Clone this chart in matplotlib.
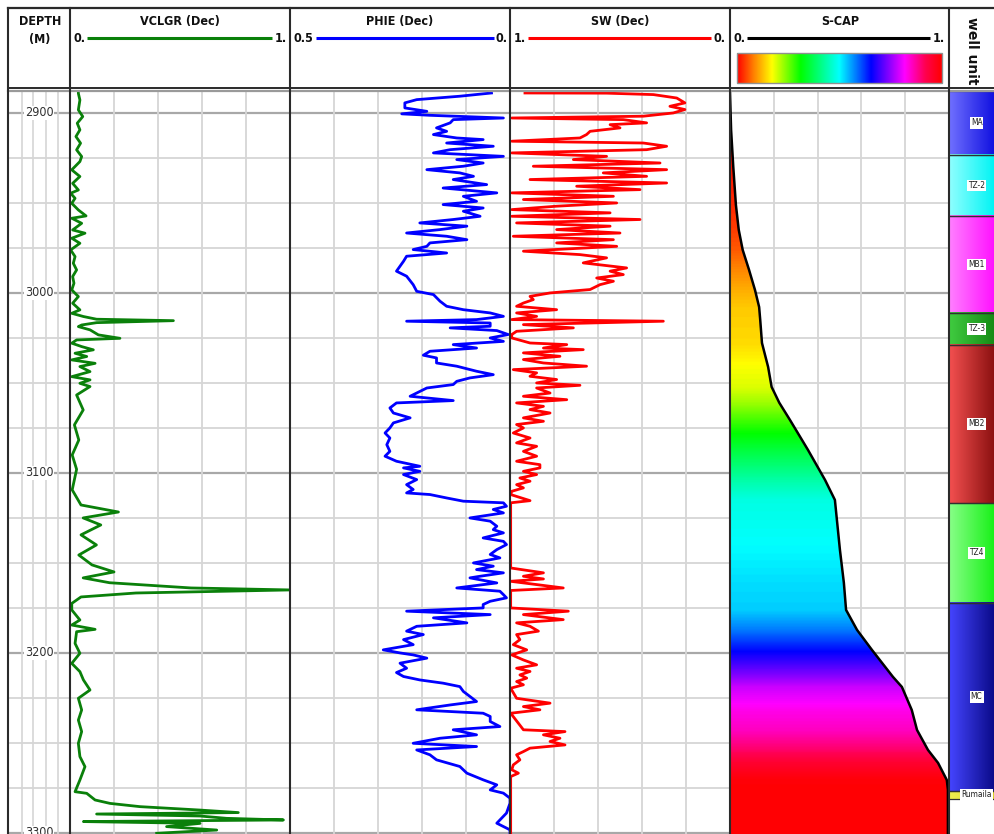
import numpy as np
import matplotlib
matplotlib.use("Agg")
import matplotlib.pyplot as plt
from matplotlib import font_manager as fm
from matplotlib.colors import LinearSegmentedColormap, to_rgb
from matplotlib.patches import Polygon, Rectangle

# pick a condensed face if one is available
_fonts = fm.fontManager.ttflist
_names = {f.name for f in _fonts}
if 'Liberation Sans Narrow' in _names:
    FAM, STRETCH, HS, DS = 'Liberation Sans Narrow', 'normal', 10, 10
elif any(f.name == 'DejaVu Sans' and ('Condensed' in f.fname) for f in _fonts):
    FAM, STRETCH, HS, DS = 'DejaVu Sans', 'condensed', 9, 9
else:
    FAM, STRETCH, HS, DS = 'Liberation Sans', 'normal', 9.5, 10
plt.rcParams['font.family'] = [FAM, 'DejaVu Sans']
plt.rcParams['font.stretch'] = STRETCH

# ---------------------------------------------------------------- data
depth_ticks = [2900, 3000, 3100, 3200, 3300]

# VCLGR (depth, value)
VCLGR = [(2887.8, 0.038), (2889.1, 0.038), (2892.8, 0.045), (2898.3, 0.038), (2902.0, 0.058), (2905.7, 0.033),
         (2909.4, 0.045), (2913.1, 0.027), (2916.8, 0.048), (2920.5, 0.030), (2924.2, 0.053), (2927.0, 0.045),
         (2931.6, 0.008), (2935.3, 0.045), (2939.1, 0.012), (2942.8, 0.038), (2944.6, 0.003), (2947.4, 0.023),
         (2950.2, 0.008), (2953.9, 0.038), (2957.2, 0.073), (2958.5, 0.008), (2961.3, 0.053), (2965.0, 0.012),
         (2966.8, 0.068), (2969.6, 0.008), (2972.4, 0.045), (2976.1, 0.003), (2979.8, 0.023), (2983.5, 0.015),
         (2987.2, 0.030), (2990.9, 0.012), (2994.6, 0.018), (2998.3, 0.008), (3002.0, 0.038), (3005.7, 0.012),
         (3009.4, 0.045), (3011.3, 0.008), (3013.1, 0.061), (3014.6, 0.121), (3015.4, 0.470), (3016.5, 0.121),
         (3017.8, 0.053), (3018.7, 0.038), (3020.5, 0.091), (3023.3, 0.129), (3025.2, 0.227), (3026.1, 0.030),
         (3027.9, 0.008), (3029.8, 0.053), (3031.6, 0.106), (3033.5, 0.023), (3035.3, 0.076), (3037.2, 0.008),
         (3039.1, 0.114), (3040.9, 0.045), (3043.7, 0.091), (3046.5, 0.008), (3048.3, 0.091), (3050.2, 0.045),
         (3052.0, 0.091), (3056.7, 0.030), (3065.0, 0.060), (3073.3, 0.020), (3081.7, 0.040), (3090.0, 0.010),
         (3098.0, 0.030), (3109.4, 0.010), (3117.8, 0.050), (3121.7, 0.220), (3125.0, 0.060), (3128.9, 0.140),
         (3134.4, 0.050), (3140.0, 0.120), (3145.6, 0.040), (3151.1, 0.100), (3155.0, 0.200), (3158.3, 0.060),
         (3161.0, 0.180), (3163.9, 0.550), (3165.0, 1.000), (3166.7, 0.300), (3168.9, 0.050), (3172.5, 0.008),
         (3176.1, 0.008), (3181.7, 0.045), (3184.5, 0.008), (3186.9, 0.114), (3188.2, 0.030), (3194.7, 0.023),
         (3200.2, 0.045), (3205.8, 0.008), (3210.4, 0.045), (3215.0, 0.061), (3220.6, 0.091), (3225.2, 0.038),
         (3231.7, 0.053), (3237.3, 0.038), (3243.7, 0.053), (3250.2, 0.038), (3257.6, 0.045), (3263.2, 0.068),
         (3270.6, 0.045), (3277.1, 0.023), (3278.0, 0.076), (3281.7, 0.114), (3283.6, 0.182), (3285.4, 0.318),
         (3287.3, 0.591), (3288.7, 0.765), (3289.5, 0.121), (3290.6, 0.591), (3291.9, 0.712), (3292.8, 0.970),
         (3293.7, 0.061), (3294.7, 0.591), (3296.5, 0.439), (3298.4, 0.667), (3300.2, 0.394)]

# PHIE (depth, value)
PHIE = [(2888.9, 0.042), (2890.7, 0.114), (2892.6, 0.212), (2894.4, 0.239), (2897.2, 0.239), (2899.1, 0.189),
        (2900.5, 0.246), (2901.3, 0.182), (2902.8, 0.015), (2903.7, 0.129), (2905.5, 0.136), (2908.3, 0.167),
        (2910.2, 0.144), (2912.0, 0.174), (2913.9, 0.121), (2914.8, 0.061), (2916.7, 0.144), (2918.5, 0.038),
        (2920.4, 0.136), (2922.2, 0.174), (2924.1, 0.015), (2925.9, 0.121), (2927.8, 0.061), (2929.6, 0.106),
        (2931.5, 0.189), (2933.3, 0.114), (2935.2, 0.083), (2937.0, 0.129), (2939.8, 0.053), (2941.7, 0.152),
        (2944.4, 0.030), (2946.3, 0.106), (2949.1, 0.076), (2950.9, 0.152), (2952.8, 0.061), (2954.6, 0.106),
        (2957.4, 0.068), (2959.2, 0.129), (2961.1, 0.205), (2962.9, 0.098), (2964.8, 0.159), (2966.7, 0.235),
        (2968.5, 0.144), (2970.4, 0.098), (2972.2, 0.182), (2974.1, 0.189), (2975.9, 0.220), (2977.8, 0.144),
        (2979.6, 0.235), (2982.4, 0.242), (2985.2, 0.250), (2987.9, 0.258), (2990.7, 0.235),
        (2995.4, 0.220), (2999.1, 0.212), (3000.9, 0.174), (3004.6, 0.159), (3007.4, 0.144), (3009.3, 0.106),
        (3011.1, 0.045), (3013.0, 0.015), (3014.8, 0.076), (3015.7, 0.235), (3016.7, 0.045), (3018.5, 0.045),
        (3019.4, 0.136), (3020.9, 0.030), (3023.1, 0.004), (3025.0, 0.045), (3026.9, 0.015), (3028.7, 0.129),
        (3030.6, 0.076), (3032.4, 0.182), (3034.6, 0.197), (3036.1, 0.167), (3038.9, 0.167), (3040.7, 0.121),
        (3043.5, 0.076), (3045.4, 0.038), (3047.2, 0.091), (3049.1, 0.121), (3050.9, 0.129), (3052.8, 0.189),
        (3055.6, 0.212), (3057.4, 0.227), (3059.8, 0.129), (3061.1, 0.258), (3063.9, 0.273), (3066.7, 0.265),
        (3069.4, 0.227), (3072.2, 0.265), (3075.0, 0.273), (3077.8, 0.284), (3080.6, 0.273), (3084.3, 0.280),
        (3088.0, 0.273), (3090.7, 0.284), (3093.5, 0.258), (3096.3, 0.205),
        (3097.2, 0.242), (3099.1, 0.205), (3100.9, 0.242), (3103.7, 0.212), (3106.5, 0.235), (3109.2, 0.220),
        (3111.1, 0.235), (3112.0, 0.182), (3113.9, 0.144), (3115.7, 0.106), (3116.6, 0.015), (3118.5, 0.008),
        (3120.3, 0.038), (3122.2, 0.015), (3125.0, 0.091), (3126.8, 0.045), (3129.6, 0.030), (3131.5, 0.038),
        (3133.3, 0.015), (3136.1, 0.061), (3138.0, 0.015), (3139.8, 0.008), (3142.6, 0.030), (3145.3, 0.045),
        (3147.2, 0.023), (3150.0, 0.083), (3151.8, 0.038), (3153.7, 0.076), (3155.5, 0.015), (3157.4, 0.068),
        (3158.3, 0.091), (3161.1, 0.030), (3163.9, 0.121), (3165.7, 0.023), (3167.6, 0.015), (3169.4, 0.008),
        (3171.3, 0.045), (3173.1, 0.061), (3175.0, 0.061), (3176.8, 0.235), (3178.7, 0.045), (3180.5, 0.174),
        (3183.3, 0.098), (3185.2, 0.212), (3187.9, 0.235), (3189.8, 0.197), (3192.6, 0.242), (3195.4, 0.220),
        (3198.3, 0.288), (3200.0, 0.250), (3201.1, 0.220), (3202.9, 0.189), (3205.7, 0.250), (3208.5, 0.235),
        (3210.9, 0.258), (3213.1, 0.242), (3215.0, 0.205), (3216.8, 0.152), (3218.7, 0.114), (3221.4, 0.106),
        (3224.2, 0.091), (3227.0, 0.076), (3228.9, 0.136), (3231.6, 0.212), (3233.5, 0.061), (3235.3, 0.045),
        (3238.1, 0.045), (3240.9, 0.023), (3242.7, 0.129), (3245.5, 0.076), (3247.4, 0.159), (3250.2, 0.220),
        (3252.0, 0.076), (3253.9, 0.212), (3256.6, 0.182), (3259.4, 0.167), (3263.1, 0.114), (3266.8, 0.098),
        (3270.5, 0.061), (3273.3, 0.030), (3276.1, 0.045), (3277.9, 0.015), (3280.7, 0.000), (3283.5, 0.000),
        (3289.0, 0.008), (3294.6, 0.030), (3298.3, 0.000), (3300.6, 0.000)]

# SW (depth, value)
SW = [(2888.9, 0.932), (2889.0, 0.561), (2889.8, 0.348), (2891.7, 0.242), (2894.4, 0.205), (2896.3, 0.273),
      (2898.1, 0.205), (2900.0, 0.258), (2901.8, 0.394), (2902.8, 0.992), (2903.7, 0.485), (2905.5, 0.379),
      (2906.5, 0.545), (2908.3, 0.500), (2910.2, 0.636), (2912.0, 0.652), (2913.9, 0.682), (2915.7, 0.992),
      (2916.7, 0.394), (2918.5, 0.288), (2920.4, 0.379), (2922.2, 0.992), (2924.1, 0.561), (2925.9, 0.712),
      (2927.8, 0.318), (2929.6, 0.894), (2931.5, 0.288), (2933.3, 0.576), (2935.2, 0.379), (2937.0, 0.909),
      (2938.9, 0.288), (2940.7, 0.697), (2942.6, 0.409), (2944.4, 0.992), (2946.3, 0.530), (2948.1, 0.939),
      (2950.0, 0.515), (2951.8, 0.788), (2953.7, 0.992), (2955.5, 0.545), (2957.4, 0.992), (2959.2, 0.409),
      (2961.1, 0.970), (2962.9, 0.545), (2964.8, 0.788), (2966.7, 0.500), (2968.5, 0.985), (2970.4, 0.530),
      (2972.2, 0.788), (2974.1, 0.515), (2976.8, 0.939), (2978.7, 0.682), (2980.5, 0.561), (2983.3, 0.667),
      (2986.1, 0.470), (2987.9, 0.545), (2989.8, 0.485), (2991.7, 0.606),
      (2993.5, 0.530), (2995.4, 0.591), (2998.1, 0.636), (3000.0, 0.818), (3001.9, 0.909), (3003.7, 0.894),
      (3005.6, 0.939), (3007.4, 0.970), (3009.3, 0.788), (3011.1, 0.970), (3013.0, 0.879), (3014.8, 0.992),
      (3015.7, 0.303), (3017.6, 0.939), (3019.4, 0.712), (3021.3, 0.970), (3023.1, 0.992), (3025.0, 0.992),
      (3027.8, 0.909), (3028.7, 0.742), (3030.6, 0.848), (3031.5, 0.667), (3033.3, 0.939), (3035.2, 0.773),
      (3037.0, 0.939), (3038.9, 0.848), (3040.7, 0.652), (3042.6, 0.985), (3044.4, 0.879), (3046.3, 0.909),
      (3048.1, 0.788), (3050.0, 0.879), (3051.3, 0.682), (3052.8, 0.879), (3055.6, 0.818), (3057.4, 0.939),
      (3059.3, 0.742), (3061.1, 0.970), (3063.0, 0.848), (3064.8, 0.909), (3066.7, 0.818), (3069.4, 0.939),
      (3071.3, 0.848), (3073.1, 0.970), (3075.0, 0.939), (3077.8, 0.985), (3080.6, 0.909), (3083.3, 0.970),
      (3085.2, 0.879), (3088.0, 0.939), (3090.7, 0.879), (3093.5, 0.970), (3095.4, 0.864),
      (3097.2, 0.864), (3099.1, 0.939), (3100.9, 0.879), (3102.8, 0.955), (3104.6, 0.909), (3106.5, 0.970),
      (3108.3, 0.939), (3110.2, 0.992), (3112.0, 0.997), (3115.4, 0.909), (3116.6, 0.997), (3152.8, 0.997),
      (3155.5, 0.848), (3157.4, 0.939), (3158.9, 0.848), (3160.2, 0.997), (3163.9, 0.758), (3165.3, 0.997),
      (3175.0, 0.997), (3176.8, 0.735), (3178.7, 0.939), (3181.5, 0.758), (3183.3, 0.970), (3185.2, 0.909),
      (3187.9, 0.871), (3189.8, 0.970), (3192.6, 0.955), (3195.4, 0.985),
      (3198.3, 0.924), (3201.1, 0.992), (3203.9, 0.939), (3206.6, 0.879), (3208.5, 0.970), (3210.3, 0.909),
      (3212.2, 0.955), (3214.0, 0.924), (3215.9, 0.970), (3217.7, 0.939), (3219.6, 0.997), (3225.2, 0.970),
      (3227.9, 0.818), (3229.8, 0.939), (3231.6, 0.864), (3233.5, 0.997), (3242.7, 0.939), (3243.7, 0.750),
      (3245.5, 0.848), (3247.4, 0.773), (3249.2, 0.818), (3251.1, 0.750), (3252.9, 0.909), (3254.8, 0.939),
      (3256.6, 0.970), (3259.4, 0.955), (3262.2, 0.985), (3264.9, 0.992), (3266.8, 0.962), (3268.7, 0.997),
      (3300.6, 0.997)]

# S-CAP (depth, value)
SCAP = [(2887.8, 0.0), (2888.9, 0.0), (2909.4, 0.005), (2930.0, 0.015), (2951.1, 0.027), (2965.0, 0.040),
        (2976.1, 0.058), (2987.2, 0.087), (2998.3, 0.114), (3007.8, 0.133), (3015.0, 0.138), (3027.8, 0.146),
        (3041.1, 0.174), (3052.2, 0.190), (3061.0, 0.225), (3070.6, 0.274), (3087.2, 0.356), (3103.9, 0.434),
        (3115.0, 0.479), (3142.8, 0.502), (3161.1, 0.520), (3176.1, 0.530), (3187.2, 0.580), (3198.3, 0.648),
        (3213.3, 0.744), (3218.9, 0.785), (3231.7, 0.830), (3242.8, 0.854), (3253.9, 0.904), (3261.1, 0.950),
        (3270.6, 0.990), (3276.1, 0.995), (3300.6, 0.995)]

scap_stops = [0.0, 0.08, 0.17, 0.31, 0.50, 0.655, 0.82, 0.92, 1.0]
scap_colors = ['#ff0000', '#ff8000', '#ffff00', '#00ff00', '#00ffff', '#0000ff', '#ff00ff', '#ff0050', '#ff0000']

unit_names = ['MA', 'TZ-2', 'MB1', 'TZ-3', 'MB2', 'TZ4', 'MC', 'Rumaila']
unit_tops = [2887.8, 2923.3, 2957.2, 3011.1, 3028.9, 3116.7, 3172.2, 3276.7]
unit_bases = [2923.3, 2957.2, 3011.1, 3028.9, 3116.7, 3172.2, 3276.7, 3281.1]
unit_left_colors = ['#7070ff', '#90ffff', '#ff80ff', '#40cc40', '#f45050', '#88ff88', '#4545ff', '#eeee50']
unit_right_colors = ['#1010e0', '#00f4f4', '#ff10ff', '#158a15', '#8a1010', '#18f018', '#0a0a88', '#d8d020']

# ---------------------------------------------------------------- figure
W, H = 995, 834
fig = plt.figure(figsize=(W / 100, H / 100), dpi=100)
fig.patch.set_facecolor('white')
TOP_PX = 91
D_TOP, D_BOT = 2887.8, 3300.6

MAJOR = '#a8a8a8'
MINOR = '#d6d6d6'


def add_track(x0, x1, xlim, vgrid=True):
    ax = fig.add_axes([x0 / W, 0, (x1 - x0) / W, (H - TOP_PX) / H])
    ax.set_xlim(*xlim)
    ax.set_ylim(D_BOT, D_TOP)
    ax.axis('off')
    for d in np.arange(2900, 3301, 25):
        if d % 100 == 0:
            ax.axhline(d, color=MAJOR, lw=1.6, zorder=0)
        else:
            ax.axhline(d, color=MINOR, lw=1.3, zorder=0)
    if vgrid:
        for f in [0.2, 0.4, 0.6, 0.8]:
            ax.axvline(xlim[0] + f * (xlim[1] - xlim[0]), color=MINOR, lw=1.3, zorder=0)
    return ax


def split(pairs):
    a = np.array(pairs)
    return a[:, 0], a[:, 1]


# depth track
axd = add_track(8, 70, (0, 1), vgrid=False)
for f in [0.226, 0.403, 0.613, 0.806]:
    axd.axvline(f, color=MINOR, lw=1.2, zorder=0)
for d in depth_ticks:
    axd.text(0.5, d, str(d), ha='center', va='center', fontsize=DS, color='#303030',
             bbox=dict(facecolor='white', edgecolor='none', pad=0.6), zorder=3)

# VCLGR
axv = add_track(70, 290, (0, 1))
d, v = split(VCLGR)
axv.plot(v, d, color='#0a800a', lw=2.0, zorder=2)

# PHIE
axp = add_track(290, 510, (0.5, 0))
d, v = split(PHIE)
axp.plot(v, d, color='#0000ff', lw=2.0, zorder=2)

# SW
axs = add_track(510, 730, (1, 0))
d, v = split(SW)
axs.plot(v, d, color='#ff0000', lw=2.0, zorder=2)

# S-CAP with gradient fill
cmap = LinearSegmentedColormap.from_list('scap', list(zip(scap_stops, scap_colors)))
axc = add_track(730, 949, (0, 1))
d, v = split(SCAP)
dd = np.linspace(D_TOP, D_BOT, 1200)
vv = np.interp(dd, d, v)
img = cmap(vv)[:, None, :3]
im = axc.imshow(img, aspect='auto', extent=[0, 1, D_BOT, D_TOP], origin='upper',
                interpolation='bilinear', zorder=1)
poly = Polygon(np.column_stack([np.r_[0, vv, 0], np.r_[D_TOP, dd, D_BOT]]), closed=True,
               facecolor='none', edgecolor='none', transform=axc.transData)
axc.add_patch(poly)
im.set_clip_path(poly)
axc.plot(v, d, color='black', lw=1.8, zorder=3)
axc.set_xlim(0, 1)
axc.set_ylim(D_BOT, D_TOP)

# well unit track
axu = fig.add_axes([949 / W, 0, (W - 949) / W, (H - TOP_PX) / H])
axu.set_xlim(0, 1)
axu.set_ylim(D_BOT, D_TOP)
axu.axis('off')
for name, t, b, cl, cr in zip(unit_names, unit_tops, unit_bases, unit_left_colors, unit_right_colors):
    l = np.array(to_rgb(cl))
    r = np.array(to_rgb(cr))
    g = l[None, None, :] + np.linspace(0, 1, 64)[None, :, None] * (r - l)[None, None, :]
    axu.imshow(g, aspect='auto', extent=[0, 1, b, t], origin='upper', interpolation='bilinear', zorder=1)
    axu.axhline(t, color='#303030', lw=0.9, zorder=2)
    axu.axhline(b, color='#303030', lw=0.9, zorder=2)
    axu.text(0.6, (t + b) / 2, name, ha='center', va='center', fontsize=6, color='#202020',
             bbox=dict(facecolor='white', edgecolor='none', pad=0.8), zorder=3)
axu.set_xlim(0, 1)
axu.set_ylim(D_BOT, D_TOP)

# ---------------------------------------------------------------- header / frame overlay
ov = fig.add_axes([0, 0, 1, 1], zorder=10)
ov.set_xlim(0, W)
ov.set_ylim(H, 0)
ov.axis('off')
ov.patch.set_alpha(0)

FR = '#2a2a2a'
ov.plot([8, W], [7.5, 7.5], color=FR, lw=1.6)
ov.plot([8, W], [88, 88], color=FR, lw=1.4)
ov.plot([8, W], [90.5, 90.5], color='#9a9a9a', lw=1.6)
for x in [8, 70, 290, 510, 730, 949]:
    ov.plot([x, x], [7.5, H], color=FR, lw=1.5)

hfont = dict(fontsize=HS, fontweight='bold', color='#101010')
ov.text(40, 21, 'DEPTH', ha='center', va='center', **hfont)
ov.text(40, 39, '(M)', ha='center', va='center', **hfont)

tracks_hdr = [
    ('VCLGR (Dec)', 180, '0.', '1.', 74, 287, 87, 272, '#0a800a'),
    ('PHIE (Dec)', 400, '0.5', '0.', 294, 508, 316, 494, '#0000ff'),
    ('SW (Dec)', 620, '1.', '0.', 514, 726, 528, 711, '#ff0000'),
    ('S-CAP', 840, '0.', '1.', 733, 945, 747, 930, '#000000'),
]
for title, xc, lt, rt, xl, xr, l0, l1, col in tracks_hdr:
    ov.text(xc, 21, title, ha='center', va='center', **hfont)
    ov.text(xl, 38.5, lt, ha='left', va='center', **hfont)
    ov.text(xr, 38.5, rt, ha='right', va='center', **hfont)
    ov.plot([l0, l1], [38, 38], color=col, lw=2.2, solid_capstyle='butt')

# S-CAP colour bar in header
bar = cmap(np.linspace(0, 1, 256))[None, :, :3]
ov.imshow(bar, aspect='auto', extent=[737, 942, 83, 53], origin='upper', interpolation='bilinear', zorder=2)
ov.add_patch(Rectangle((737, 53), 205, 30, facecolor='none', edgecolor='#909090', lw=1.0, zorder=3))

ov.text(972, 51, 'well unit', rotation=270, ha='center', va='center', fontsize=10, fontweight='bold',
        family='DejaVu Sans', fontstretch='normal', color='#101010',
        bbox=dict(facecolor='white', edgecolor='none', pad=1.0), zorder=4)

ov.set_xlim(0, W)
ov.set_ylim(H, 0)

fig.savefig('out.png', dpi=100, facecolor='white')
